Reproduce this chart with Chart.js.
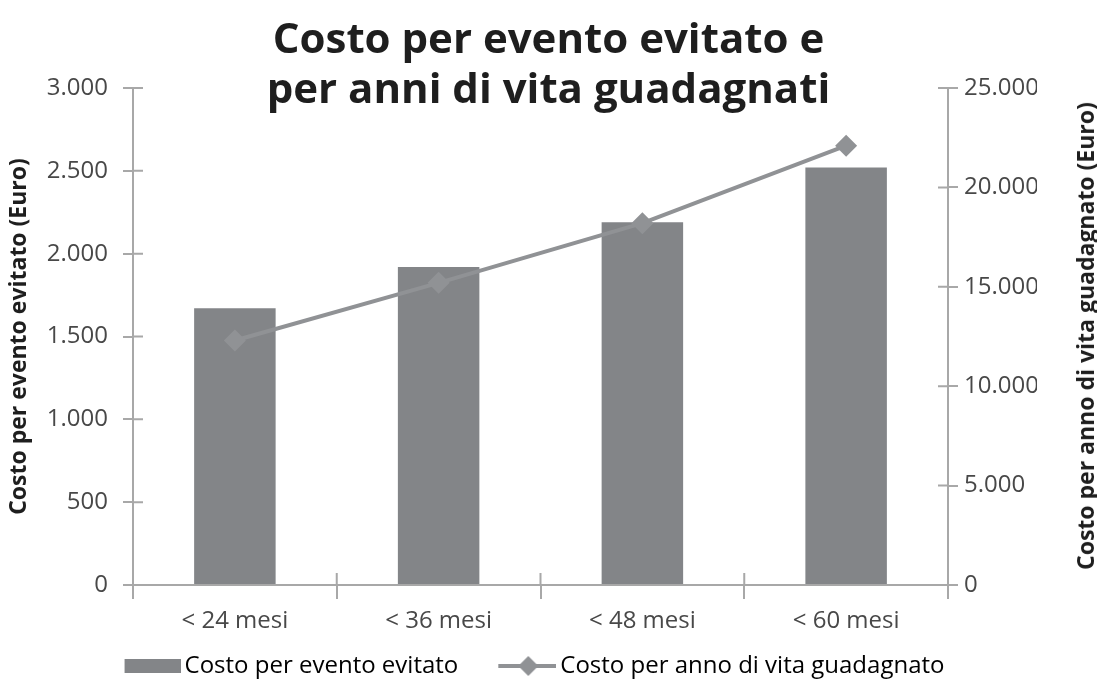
<!DOCTYPE html>
<html>
<head>
<meta charset="utf-8">
<script src="https://cdn.jsdelivr.net/npm/chart.js@4.4.1/dist/chart.umd.min.js"></script>
<style>
body { margin: 0; background: #fff; }
#wrap { position: relative; width: 1097px; height: 681px; }
#titolo { position: absolute; left: 0; top: 12px; width: 1097px; text-align: center;
  font: bold 42px/50px 'Open Sans', sans-serif; color: #1e1e1e; }
#asseDx { position: absolute; left: 1085px; top: 336px; transform: translate(-50%, -50%) rotate(-90deg);
  white-space: nowrap; font: bold 23px 'Open Sans', sans-serif; color: #1e1e1e; }
</style>
</head>
<body>
<div id="wrap">
  <canvas id="costoChart"></canvas>
  <div id="titolo">Costo per evento evitato e<br>per anni di vita guadagnati</div>
  <div id="asseDx">Costo per anno di vita guadagnato (Euro)</div>
</div>
<script>
const periodi = ['< 24 mesi', '< 36 mesi', '< 48 mesi', '< 60 mesi']
const costoEvento = [1670, 1920, 2190, 2520]
const costoAnnoVita = [12300, 15200, 18200, 22100]
const tickSinistra = [0, 500, 1000, 1500, 2000, 2500, 3000]
const tickDestra = [0, 5000, 10000, 15000, 20000, 25000]

const grigioBarre = '#838588'
const grigioLinea = '#909295'
const grigioAssi = '#a8a8a8'
const testo = '#484848'

Chart.defaults.font.family = "'Open Sans', sans-serif"

// 1.500 invece di 1,500
function migliaia(v) {
    return String(v).replace(/\B(?=(\d{3})+(?!\d))/g, '.')
}

// simboli della legenda disegnati a parte
function simboloBarra() {
    const c = document.createElement('canvas')
    c.width = 96; c.height = 14
    const g = c.getContext('2d')
    g.fillStyle = grigioBarre
    g.fillRect(40, 0, 56, 14)
    return c
}
function simboloLinea() {
    const c = document.createElement('canvas')
    c.width = 96; c.height = 22
    const g = c.getContext('2d')
    g.strokeStyle = grigioLinea
    g.lineWidth = 4
    g.beginPath(); g.moveTo(38, 11); g.lineTo(96, 11); g.stroke()
    g.fillStyle = grigioLinea
    g.beginPath(); g.moveTo(68, 1); g.lineTo(78, 11); g.lineTo(68, 21); g.lineTo(58, 11); g.closePath(); g.fill()
    return c
}

// tacche che attraversano gli assi (parte interna)
const tacche = {
    id: 'tacche',
    afterDraw(chart) {
        const {ctx, chartArea, scales} = chart
        ctx.save()
        ctx.strokeStyle = grigioAssi
        ctx.lineWidth = 2
        ctx.beginPath()
        scales.y.ticks.forEach(t => {
            const py = scales.y.getPixelForValue(t.value)
            ctx.moveTo(chartArea.left, py); ctx.lineTo(chartArea.left + 10, py)
        })
        scales.y1.ticks.forEach(t => {
            const py = scales.y1.getPixelForValue(t.value)
            ctx.moveTo(chartArea.right - 10, py); ctx.lineTo(chartArea.right, py)
        })
        for (let i = 0; i <= periodi.length; i++) {
            const px = scales.x.getPixelForValue(i - 0.5)
            ctx.moveTo(px, chartArea.bottom); ctx.lineTo(px, chartArea.bottom - 12)
        }
        ctx.stroke()
        ctx.restore()
    }
}

const ctx = document.getElementById('costoChart').getContext('2d')
const costoChart = new Chart(ctx, {
    type: 'bar',
    data: {
        labels: periodi,
        datasets: [
            {
                type: 'bar',
                label: 'Costo per evento evitato',
                data: costoEvento,
                backgroundColor: grigioBarre,
                yAxisID: 'y',
                categoryPercentage: 1,
                barPercentage: 0.4,
                order: 2
            },
            {
                type: 'line',
                label: 'Costo per anno di vita guadagnato',
                data: costoAnnoVita,
                borderColor: grigioLinea,
                backgroundColor: grigioLinea,
                borderWidth: 4,
                pointStyle: 'rectRot',
                pointRadius: 11,
                pointBorderWidth: 0,
                yAxisID: 'y1',
                order: 1
            }
        ]
    },
    options: {
        responsive: true,
        maintainAspectRatio: false,
        animation: false,
        layout: {
            padding: { top: 88, right: 60, bottom: 0, left: 0 }
        },
        plugins: {
            tooltip: { enabled: false },
            legend: {
                position: 'bottom',
                maxHeight: 37,
                labels: {
                    usePointStyle: true,
                    pointStyleWidth: 80,
                    padding: 10,
                    color: testo,
                    font: { size: 24 },
                    generateLabels: chart => [
                        { text: chart.data.datasets[0].label, pointStyle: simboloBarra(), fillStyle: grigioBarre, strokeStyle: 'transparent', lineWidth: 0, datasetIndex: 0 },
                        { text: chart.data.datasets[1].label, pointStyle: simboloLinea(), fillStyle: grigioLinea, strokeStyle: 'transparent', lineWidth: 0, datasetIndex: 1 }
                    ]
                }
            }
        },
        scales: {
            x: {
                offset: true,
                grid: { offset: true, drawOnChartArea: false, tickLength: 14, color: grigioAssi, lineWidth: 2 },
                border: { color: grigioAssi, width: 2 },
                ticks: { color: testo, font: { size: 24 }, padding: 8 },
                afterFit(scale) { scale.height = 59 }
            },
            y: {
                position: 'left',
                min: 0,
                max: 3000,
                afterBuildTicks(scale) { scale.ticks = tickSinistra.map(v => ({ value: v })) },
                grid: { drawOnChartArea: false, tickLength: 10, color: grigioAssi, lineWidth: 2 },
                border: { color: grigioAssi, width: 2 },
                ticks: { color: testo, font: { size: 24 }, padding: 15, callback: migliaia },
                title: {
                    display: true,
                    text: 'Costo per evento evitato (Euro)',
                    color: '#1e1e1e',
                    font: { size: 23, weight: 'bold' },
                    padding: { top: 6, bottom: 0 }
                },
                afterFit(scale) { scale.width = 133 }
            },
            y1: {
                position: 'right',
                min: 0,
                max: 25000,
                afterBuildTicks(scale) { scale.ticks = tickDestra.map(v => ({ value: v })) },
                grid: { drawOnChartArea: false, tickLength: 10, color: grigioAssi, lineWidth: 2 },
                border: { color: grigioAssi, width: 2 },
                ticks: { color: testo, font: { size: 24 }, padding: 6, callback: migliaia },
                afterFit(scale) { scale.width = 89 }
            }
        }
    },
    plugins: [tacche]
})
</script>
</body>
</html>
